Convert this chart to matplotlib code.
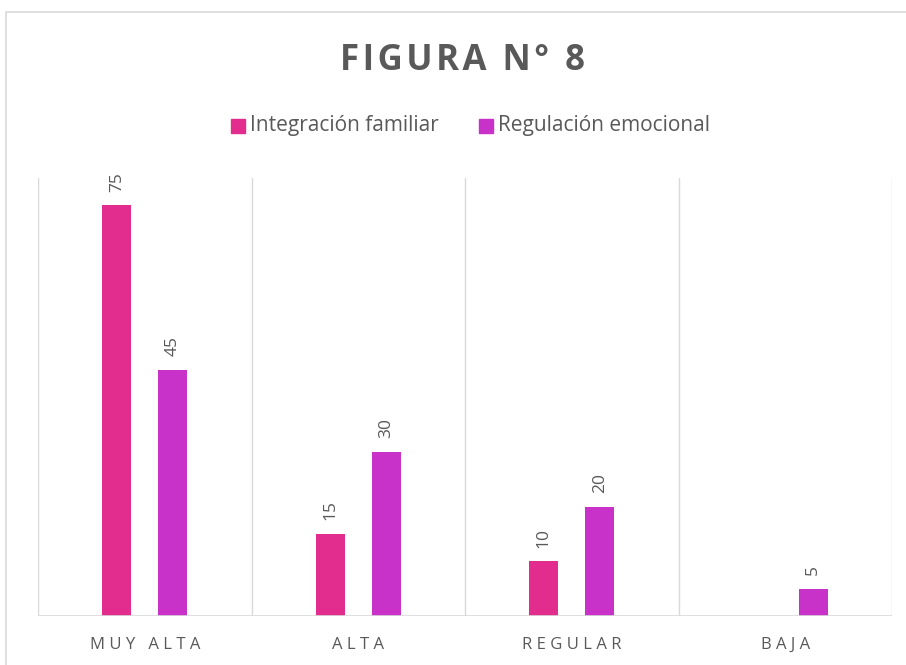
import matplotlib.pyplot as plt
from matplotlib.patches import Rectangle

categorias = ["MUY ALTA", "ALTA", "REGULAR", "BAJA"]
integracion = [75, 15, 10, 0]
regulacion = [45, 30, 20, 5]
series = ["Integración familiar", "Regulación emocional"]
colores = ["#E32D8E", "#C832C8"]
gris = "#595959"

plt.rcParams['font.family'] = ['Open Sans', 'DejaVu Sans']

fig = plt.figure(figsize=(9.06, 6.65), dpi=100)
ax = fig.add_axes([38/906, 49/665, 854/906, 438/665])

# borde del area del grafico (solo se ven lados izq y sup)
fig.patches.append(Rectangle((6/906, -0.1), 1.2, (654+66)/665, transform=fig.transFigure,
                             fill=False, edgecolor="#D9D9D9", linewidth=1.2))

x = range(len(categorias))
ancho = 0.136
desp = 0.131
for i in x:
    for j, valores in enumerate([integracion, regulacion]):
        v = valores[i]
        if v == 0:
            continue
        xp = i + (-desp if j == 0 else desp)
        ax.bar(xp, v, width=ancho, color=colores[j])
        ax.text(xp, v + 2.5, str(v), rotation=90, ha="center", va="bottom",
                fontsize=12.5, color=gris)

ax.set_xlim(-0.5, len(categorias) - 0.5)
ax.set_ylim(0, 80)
for b in [i + 0.5 for i in range(-1, len(categorias))]:
    ax.axvline(b, color="#D9D9D9", linewidth=1, zorder=0)
for s in ax.spines.values():
    s.set_visible(False)
ax.axhline(0, color="#D9D9D9", linewidth=1.2)
ax.set_yticks([])
ax.set_xticks(list(x))
ax.set_xticklabels(["\u2009\u200a".join(c) for c in categorias], fontsize=12, color=gris)
ax.tick_params(axis="x", length=0, pad=15)

fig.text(0.511, 0.909, "\u200a".join("FIGURA N° 8"), ha="center", va="center", fontsize=25,
         fontweight="bold", color=gris)

# leyenda
for k, (nombre, col, xs) in enumerate(zip(series, colores, [231, 479])):
    fig.patches.append(Rectangle((xs/906, (665-133)/665), 14/906, 14/665,
                                 transform=fig.transFigure, color=col))
    fig.text((xs+19)/906, (665-126)/665, nombre, ha="left", va="center",
             fontsize=15, color=gris)

fig.savefig("out.png", dpi=100)
